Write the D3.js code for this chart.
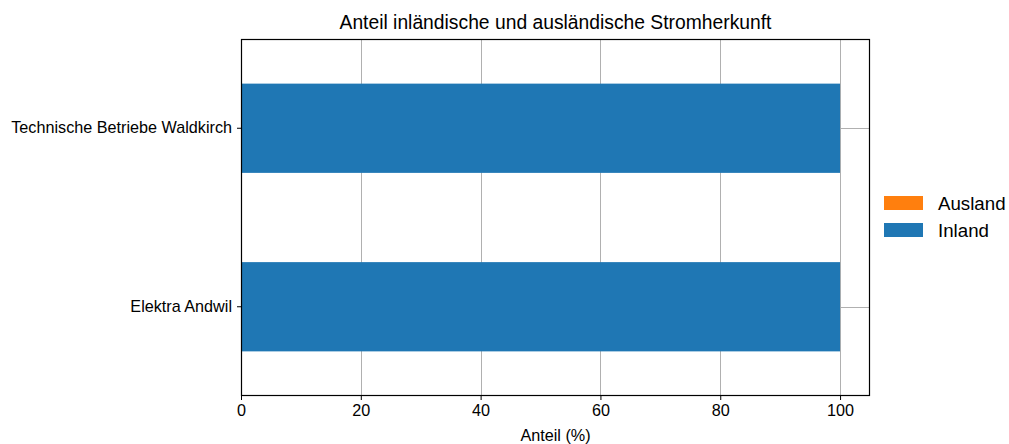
<!DOCTYPE html>
<html><head><meta charset="utf-8">
<script src="https://cdn.jsdelivr.net/npm/d3@7"></script>
<style>body{margin:0;background:#fff}svg{display:block}text{font-family:"Liberation Sans",Arial,sans-serif;fill:#000}</style>
</head><body><svg id="c" width="1009" height="444"></svg>
<script>
const categories = ["Technische Betriebe Waldkirch", "Elektra Andwil"];
const inland = [100, 100];
const ausland = [0, 0];
const xTicks = [0, 20, 40, 60, 80, 100];
const seriesNames = ["Inland", "Ausland"];
const colors = {Inland: "#1f77b4", Ausland: "#ff7f0e"};

const svg = d3.select("#c");
const L = 241, R = 870, T = 39, B = 396;
const x = d3.scaleLinear().domain([0, 105]).range([L, R]);
const y = d3.scaleBand().domain(categories).range([T, B]).paddingInner(0.5).paddingOuter(0.25);

// grid
const g = svg.append("g");
g.selectAll("line.vx").data(xTicks).join("line")
  .attr("x1", d => Math.round(x(d)) + 0.5).attr("x2", d => Math.round(x(d)) + 0.5)
  .attr("y1", T).attr("y2", B).attr("stroke", "#b0b0b0").attr("stroke-width", 1);
g.selectAll("line.hy").data(categories).join("line")
  .attr("y1", d => Math.round(y(d) + y.bandwidth() / 2) + 0.5).attr("y2", d => Math.round(y(d) + y.bandwidth() / 2) + 0.5)
  .attr("x1", L).attr("x2", R).attr("stroke", "#b0b0b0").attr("stroke-width", 1);

// stacked bars
const rows = categories.map((c, i) => ({cat: c, Inland: inland[i], Ausland: ausland[i]}));
const stack = d3.stack().keys(seriesNames)(rows);
svg.append("g").selectAll("g").data(stack).join("g").attr("fill", d => colors[d.key])
  .selectAll("rect").data(d => d).join("rect")
  .attr("x", d => x(d[0])).attr("width", d => x(d[1]) - x(d[0]))
  .attr("y", d => y(d.data.cat)).attr("height", y.bandwidth());

// axes
const xa = svg.append("g").attr("transform", `translate(0,${B})`)
  .call(d3.axisBottom(x).tickValues(xTicks).tickSize(4).tickPadding(4));
xa.select(".domain").remove();
xa.selectAll("text").style("font-size", "16.2px");
xa.selectAll("line").attr("stroke", "#000");
const ya = svg.append("g").attr("transform", `translate(${L},0)`)
  .call(d3.axisLeft(y).tickSize(4).tickPadding(5));
ya.select(".domain").remove();
ya.selectAll("text").style("font-size", "16.2px");
ya.selectAll("line").attr("stroke", "#000");

// frame
svg.append("rect").attr("x", L + 0.5).attr("y", T + 0.5).attr("width", R - L - 1).attr("height", B - T - 1)
  .attr("fill", "none").attr("stroke", "#000").attr("stroke-width", 1.2);

// title & label
svg.append("text").attr("x", (L + R) / 2).attr("y", 29).attr("text-anchor", "middle")
  .style("font-size", "19.3px").text("Anteil inländische und ausländische Stromherkunft");
svg.append("text").attr("x", (L + R) / 2).attr("y", 441).attr("text-anchor", "middle")
  .style("font-size", "16.2px").text("Anteil (%)");

// legend
const legendItems = ["Ausland", "Inland"];
const lg = svg.append("g");
legendItems.forEach((k, i) => {
  lg.append("rect").attr("x", 884).attr("y", 196 + i * 27).attr("width", 39).attr("height", 14).attr("fill", colors[k]);
  lg.append("text").attr("x", 938).attr("y", 210 + i * 27).style("font-size", "18.7px").text(k);
});
</script></body></html>
